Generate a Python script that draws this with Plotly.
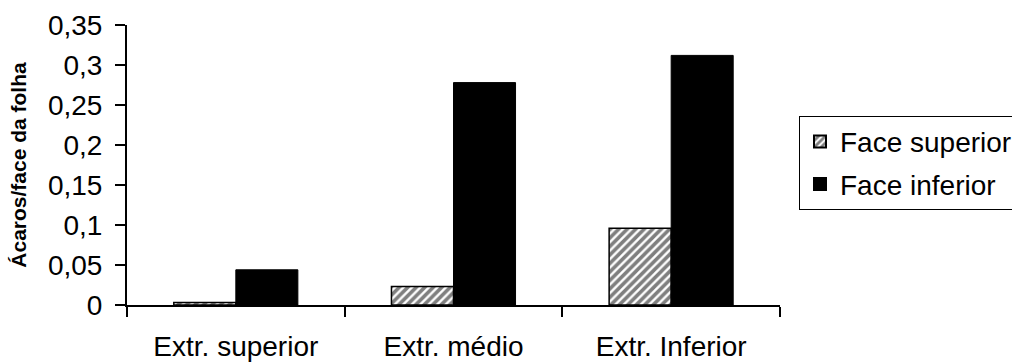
import plotly.graph_objects as go

# Mite counts per leaf face, by leaf position
categories = ["Extr. superior", "Extr. médio", "Extr. Inferior"]
face_superior = [0.003, 0.023, 0.096]
face_inferior = [0.044, 0.278, 0.312]
y_ticks = [0, 0.05, 0.1, 0.15, 0.2, 0.25, 0.3, 0.35]

FONT = "Liberation Sans, Arial, sans-serif"

fig = go.Figure()
fig.add_trace(go.Bar(
    name="Face superior", x=categories, y=face_superior,
    legendgroup="sup",
    marker=dict(color="white", line=dict(color="black", width=1.5),
                pattern=dict(shape="/", fgcolor="black", bgcolor="white",
                             size=6, solidity=0.6)),
))
fig.add_trace(go.Bar(
    name="Face inferior", x=categories, y=face_inferior,
    legendgroup="inf",
    marker=dict(color="black", line=dict(color="black", width=1)),
))

fig.update_layout(
    width=1012, height=362,
    margin=dict(l=127, r=232, t=25, b=57, autoexpand=False),
    paper_bgcolor="white", plot_bgcolor="white",
    separators=",.",
    barmode="group", bargap=0.43, bargroupgap=0,
    font=dict(family=FONT, size=28, color="black"),
    showlegend=True,
    legend=dict(x=0.7895, y=0.68, xanchor="left", yanchor="top",
                xref="container", yref="container",
                bordercolor="black", borderwidth=1, bgcolor="white",
                font=dict(size=28), tracegroupgap=3, itemsizing="constant"),
)
fig.update_xaxes(
    showline=True, linecolor="black", linewidth=2,
    ticks="outside", tickson="boundaries", ticklen=10, tickcolor="black",
    tickwidth=2, showgrid=False, zeroline=False, automargin=False,
    ticklabelstandoff=15,
)
fig.update_yaxes(
    range=[0, 0.35], tickvals=y_ticks,
    showline=True, linecolor="black", linewidth=2,
    ticks="outside", ticklen=10, tickcolor="black", tickwidth=2,
    showgrid=False, zeroline=False, automargin=False, ticklabelstandoff=7,
    title=dict(text="<b>Ácaros/face da folha</b>", font=dict(size=21), standoff=16),
)

fig.write_html("out.html")
